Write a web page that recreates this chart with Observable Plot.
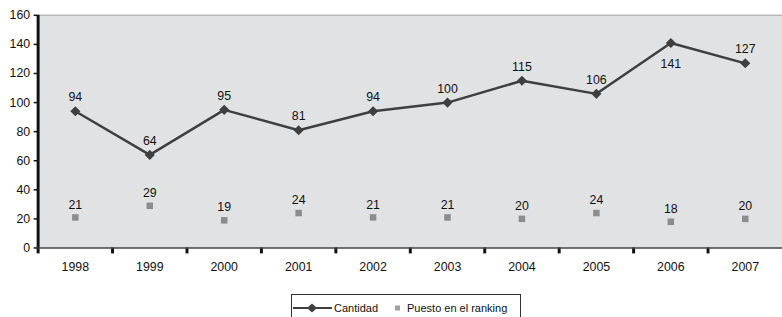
<!DOCTYPE html>
<html>
<head>
<meta charset="utf-8">
<script src="https://cdn.jsdelivr.net/npm/d3@7"></script>
<script src="https://cdn.jsdelivr.net/npm/@observablehq/plot@0.6"></script>
<style>
  html, body { margin: 0; padding: 0; background: #fff; overflow: hidden; width: 782px; height: 317px; }
  body { font-family: "Liberation Sans", Arial, sans-serif; position: relative; }
  #chart { position: absolute; left: 0; top: 0; }
  #legend { position: absolute; left: 291px; top: 294px; width: 230px; height: 30px;
    border: 1px solid #333; box-sizing: border-box; font-size: 11px; color: #111; }
  #legend .item { position: absolute; top: 7px; display: flex; align-items: center; white-space: nowrap; }
</style>
</head>
<body>
<div id="chart"></div>
<div id="legend">
  <div class="item" style="left:1px">
    <svg width="40" height="12"><line x1="0" y1="6" x2="39" y2="6" stroke="#3f3f3f" stroke-width="2"/><path d="M19,1.5 L24,6 L19,10.5 L14,6 Z" fill="#3f3f3f"/></svg>
    <span style="margin-left:1px">Cantidad</span>
  </div>
  <div class="item" style="left:102px">
    <svg width="8" height="12"><rect x="1" y="3.5" width="5" height="5" fill="#a0a0a0"/></svg>
    <span style="margin-left:5px">Puesto en el ranking</span>
  </div>
</div>
<script>
const years = [1998, 1999, 2000, 2001, 2002, 2003, 2004, 2005, 2006, 2007];
const cantidad = [94, 64, 95, 81, 94, 100, 115, 106, 141, 127];
const puesto = [21, 29, 19, 24, 21, 21, 20, 24, 18, 20];
const yTicks = [0, 20, 40, 60, 80, 100, 120, 140, 160];

const data = years.map((year, i) => ({year, cantidad: cantidad[i], puesto: puesto[i]}));
const separators = years.map(y => y - 0.5);

const chart = Plot.plot({
  width: 790,
  height: 280,
  marginLeft: 38,
  marginRight: 0,
  marginTop: 15,
  marginBottom: 30,
  style: {fontFamily: "'Liberation Sans', Arial, sans-serif", fontSize: "12px", color: "#111", background: "transparent"},
  x: {domain: [1997.5, 2007.5]},
  y: {domain: [0, 160]},
  marks: [
    Plot.frame({fill: "#e1e2e4", stroke: null}),
    Plot.ruleY([160], {stroke: "#b8b8b8", strokeWidth: 1.5}),
    Plot.axisY({ticks: yTicks, tickSize: 4, tickPadding: 4, label: null, fontSize: 12.5, stroke: "#111", strokeWidth: 1.5}),
    Plot.axisX({ticks: separators, tickSize: 6, tickFormat: () => "", label: null, stroke: "#111", strokeWidth: 3}),
    Plot.axisX({ticks: years, tickSize: 0, tickPadding: 14, tickFormat: d => String(d), label: null, fontSize: 12.5}),
    Plot.ruleY([0], {stroke: "#444", strokeWidth: 1.5}),
    Plot.ruleX([1997.5], {stroke: "#111", strokeWidth: 3}),
    Plot.line(data, {x: "year", y: "cantidad", stroke: "#3f3f3f", strokeWidth: 2.5}),
    Plot.dot(data, {x: "year", y: "cantidad", symbol: "diamond2", r: 4.6, fill: "#3f3f3f", stroke: null}),
    Plot.dot(data, {x: "year", y: "puesto", symbol: "square", r: 3.7, fill: "#8c8c8c", stroke: null}),
    Plot.text(data.filter(d => d.year !== 2006), {x: "year", y: "cantidad", text: d => String(d.cantidad), dy: -14, fontSize: 12.5, fill: "#111"}),
    Plot.text(data.filter(d => d.year === 2006), {x: "year", y: "cantidad", text: d => String(d.cantidad), dy: 21, fontSize: 12.5, fill: "#111"}),
    Plot.text(data, {x: "year", y: "puesto", text: d => String(d.puesto), dy: -13, fontSize: 12.5, fill: "#111"})
  ]
});
document.getElementById("chart").appendChild(chart);
</script>
</body>
</html>
